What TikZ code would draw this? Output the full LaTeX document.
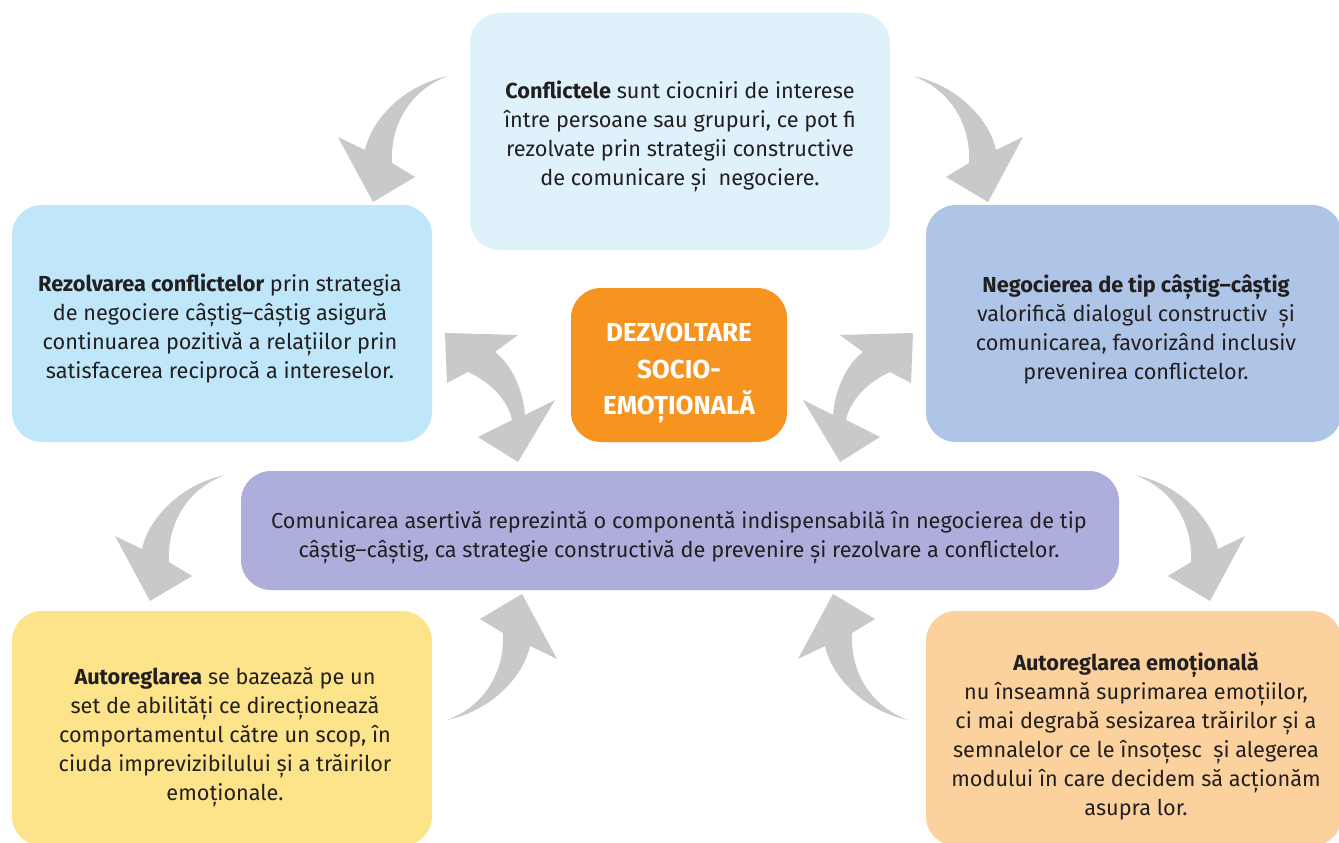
\documentclass[tikz,border=0pt]{standalone}
\usepackage{fontspec}
\setmainfont{Fira Sans}
\definecolor{txt}{HTML}{231F20}
\definecolor{cTop}{HTML}{DFF1FB}
\definecolor{cLeft}{HTML}{BFE6F9}
\definecolor{cRight}{HTML}{AFC5E7}
\definecolor{cOrange}{HTML}{F7941F}
\definecolor{cMid}{HTML}{ADAEDB}
\definecolor{cYellow}{HTML}{FDE48A}
\definecolor{cPeach}{HTML}{FBD29E}
\definecolor{cArrow}{HTML}{C8C9CB}
\newcommand{\singlearrowpath}{(0,0) .. controls (-43,9) and (-76,42) .. (-83,74) -- (-110,61) -- (-75,126) -- (-33,101) -- (-56,87) .. controls (-58,49) and (-38,14) .. (0,0) -- cycle}
\begin{document}
\begin{tikzpicture}[x=1pt,y=-1pt,
  box/.style={rounded corners=30pt, inner sep=0pt, draw=none},
  boxtext/.style={inner sep=0pt, align=center, text=txt,
    font=\fontsize{21.7}{29}\selectfont},
  garrow/.style={fill=cArrow, draw=none}]
\clip (0,0) rectangle (1339,843);
\fill[white] (0,0) rectangle (1339,843);
% boxes
\node[box, fill=cTop, minimum width=420pt, minimum height=237pt] (top) at (680,131.5) {};
\node[box, fill=cLeft, minimum width=420pt, minimum height=237pt] (left) at (222,323.5) {};
\node[box, fill=cRight, minimum width=416pt, minimum height=237pt] (right) at (1134,323.5) {};
\node[box, fill=cOrange, minimum width=216pt, minimum height=154pt] (center) at (679,365) {};
\node[box, fill=cMid, minimum width=878pt, minimum height=119pt] (mid) at (680,530.5) {};
\node[box, fill=cYellow, minimum width=420pt, minimum height=235pt] (bl) at (222,728.5) {};
\node[box, fill=cPeach, minimum width=416pt, minimum height=235pt] (br) at (1134,728.5) {};
% texts
\node[boxtext] (topT) at (680,136.5)
  {\textbf{Conflictele} sunt ciocniri de interese\\între persoane sau grupuri, ce pot fi\\rezolvate prin strategii constructive\\de comunicare și~ negociere.};
\node[boxtext] (leftT) at (220,329)
  {\textbf{Rezolvarea conflictelor} prin strategia\\de negociere câștig–câștig asigură\\continuarea pozitivă a relațiilor prin\\satisfacerea reciprocă a intereselor.};
\node[boxtext] (rightT) at (1136,329)
  {\textbf{Negocierea de tip câștig–câștig}\\valorifică dialogul constructiv~ și\\comunicarea, favorizând inclusiv\\prevenirea conflictelor.};
\node[boxtext, text=white, font=\fontsize{26}{36.5}\selectfont\bfseries] (centerT) at (679,373)
  {DEZVOLTARE\\SOCIO-\\EMOȚIONALĂ};
\node[boxtext] (midT) at (679,537.5)
  {Comunicarea asertivă reprezintă o componentă indispensabilă în negocierea de tip\\câștig–câștig, ca strategie constructivă de prevenire și rezolvare a conflictelor.};
\node[boxtext] (blT) at (225,737)
  {\textbf{Autoreglarea} se bazează pe un\\set de abilități ce direcționează\\comportamentul către un scop, în\\ciuda imprevizibilului și a trăirilor\\emoționale.};
\node[boxtext] (brT) at (1136,736.5)
  {\textbf{Autoreglarea emoțională}\\nu înseamnă suprimarea emoțiilor,\\ci mai degrabă sesizarea trăirilor și a\\semnalelor ce le însoțesc~ și alegerea\\modului în care decidem să acționăm\\asupra lor.};
% single curved arrows
\begin{scope}[shift={(448,76)}] \fill[garrow] \singlearrowpath; \end{scope}
\begin{scope}[shift={(913,76)}, xscale=-1] \fill[garrow] \singlearrowpath; \end{scope}
\begin{scope}[shift={(225,475)}] \fill[garrow] \singlearrowpath; \end{scope}
\begin{scope}[shift={(1135,475)}, xscale=-1] \fill[garrow] \singlearrowpath; \end{scope}
\begin{scope}[shift={(447,720)}, rotate=180] \fill[garrow] \singlearrowpath; \end{scope}
\begin{scope}[shift={(908,720)}, rotate=180, xscale=-1] \fill[garrow] \singlearrowpath; \end{scope}
% double arrows
\fill[garrow] (445,333) -- (447,383) -- (468,372) .. controls (490,382) and (508,400) .. (512,420) -- (478,437) -- (518,462) -- (555,400) -- (525,415) .. controls (523,390) and (512,365) .. (495,352) -- (518,335) -- cycle;
\fill[garrow] (913,333) -- (911,383) -- (890,372) .. controls (868,382) and (850,400) .. (846,420) -- (880,437) -- (840,462) -- (803,400) -- (833,415) .. controls (835,390) and (846,365) .. (863,352) -- (840,335) -- cycle;
\end{tikzpicture}
\end{document}
